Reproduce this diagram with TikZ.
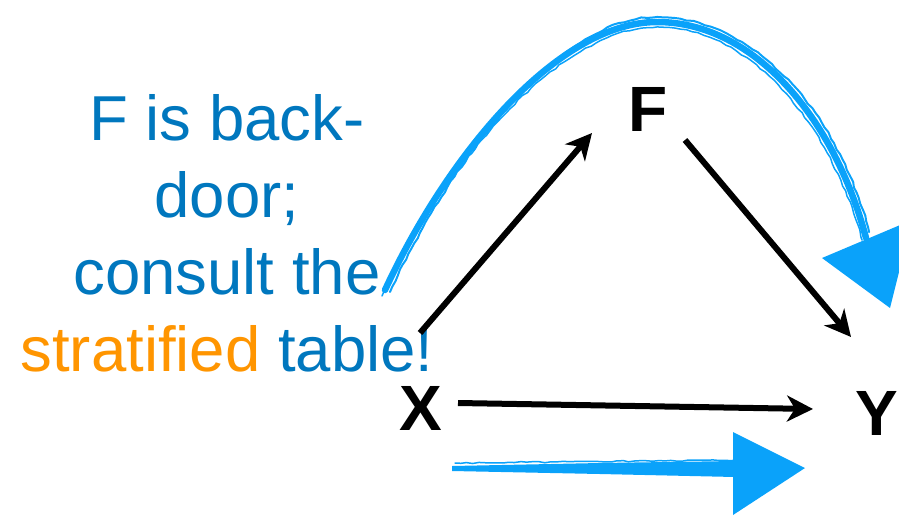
\documentclass[tikz,border=0pt]{standalone}
\usepackage{fontspec}
\setmainfont{Liberation Sans}
\usetikzlibrary{arrows.meta,calc,decorations.pathmorphing}
\definecolor{txtblue}{RGB}{0,119,190}
\definecolor{txtorange}{RGB}{255,149,0}
\definecolor{sketchblue}{RGB}{10,162,250}
\tikzset{
  var/.style={font=\bfseries\fontsize{64}{64}\selectfont, inner sep=0pt},
  arr/.style={line width=6pt, -{Stealth[length=26pt,width=26pt,inset=8pt]}},
  sketch/.style={draw=sketchblue, line cap=round},
  rough/.style={sketch, decorate, decoration={random steps,segment length=6pt,amplitude=0.8pt}},
}
\begin{document}
\begin{tikzpicture}[x=1pt,y=-1pt]
\useasboundingbox (0,0) rectangle (899,517);
\clip (0,0) rectangle (899,517);
\pgfmathsetseed{7}
% nodes
\node[var] (X) at (421,408) {X};
\node[var] (F) at (648,109) {F};
\node[var] (Y) at (877,413) {Y};
% text
\node[anchor=north, align=center, inner sep=0pt, text=txtblue,
      font=\fontsize{63.5}{77}\selectfont] (T) at (227,94)
  {F is back-\\door;\\consult the\\\textcolor{txtorange}{stratified} table!};
% sketched arc
\path (385,290) coordinate (a0) (657,22) coordinate (a1) (866,238) coordinate (a2);
\draw[sketch, line width=6.5pt] (a0) .. controls (450,150) and (560,22) .. (a1)
      .. controls (755,22) and (835,120) .. (a2);
\draw[rough, line width=2pt] (390,292) .. controls (452,158) and (560,16) .. (657,17)
      .. controls (758,18) and (840,118) .. (869,232);
\draw[rough, line width=1.5pt] (382,296) .. controls (448,160) and (560,28) .. (657,27)
      .. controls (752,28) and (830,124) .. (862,240);
\fill[sketchblue] (822,258) -- (912,220) -- (890,308) -- cycle;
% sketched bottom arrow
\fill[sketchblue] (452,466) -- (600,463) -- (735,461) -- (735,477) -- (600,474) -- (452,471) -- cycle;
\draw[rough, line width=1.5pt] (455,463) -- (735,460);
\fill[sketchblue] (733,432) -- (805,468) -- (733,515) -- cycle;
% black arrows
\draw[arr] ($(X)+(-1,-75)$) -- ($(F)+(-56,24)$);
\draw[arr] ($(F)+(37,31)$) -- ($(Y)+(-26,-76)$);
\draw[arr] ($(X)+(37,-5)$) -- ($(Y)+(-64,-4)$);
\end{tikzpicture}
\end{document}
